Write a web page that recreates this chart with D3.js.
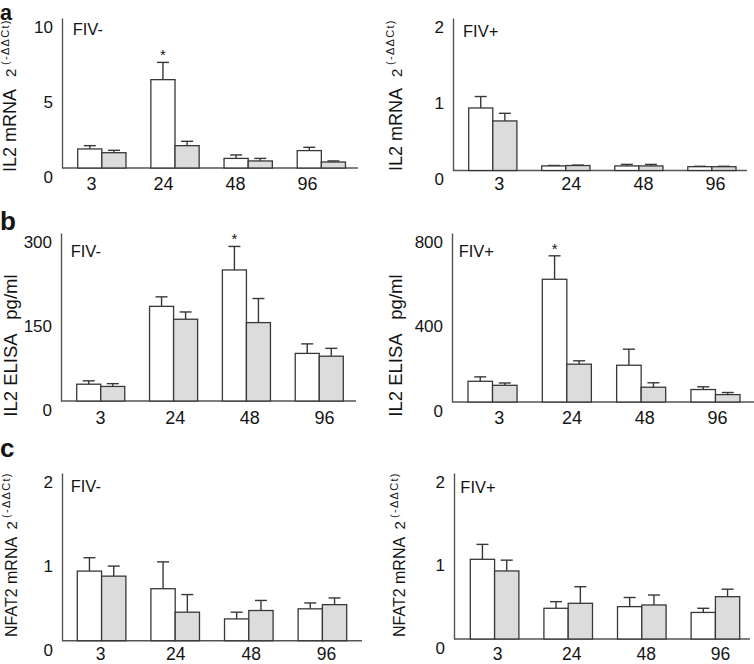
<!DOCTYPE html>
<html><head><meta charset="utf-8">
<script src="https://cdn.jsdelivr.net/npm/d3@7"></script>
<style>
html,body{margin:0;padding:0;background:#fff;}
svg{display:block;font-family:"Liberation Sans",Arial,Helvetica,sans-serif;}
</style></head>
<body><svg id="chart" width="754" height="664"></svg>
<script>
// ---------- data ----------
const categories = ["3", "24", "48", "96"];
const seriesNames = ["white", "gray"];

// a: IL2 mRNA 2^(-ΔΔCt)
const il2mrnaNegWhite = [1.27, 5.89, 0.64, 1.16];
const il2mrnaNegWhiteErr = [0.22, 1.15, 0.23, 0.22];
const il2mrnaNegGray = [1.02, 1.49, 0.47, 0.40];
const il2mrnaNegGrayErr = [0.16, 0.29, 0.17, 0.07];
const il2mrnaPosWhite = [0.82, 0.06, 0.06, 0.05];
const il2mrnaPosWhiteErr = [0.15, 0.006, 0.02, 0.005];
const il2mrnaPosGray = [0.65, 0.065, 0.06, 0.05];
const il2mrnaPosGrayErr = [0.10, 0.006, 0.02, 0.005];

// b: IL2 ELISA pg/ml
const il2elisaNegWhite = [30, 169, 234, 85];
const il2elisaNegWhiteErr = [6, 17, 42, 17];
const il2elisaNegGray = [26, 146, 140, 80];
const il2elisaNegGrayErr = [5, 13, 43, 14];
const il2elisaPosWhite = [98, 581, 174, 59];
const il2elisaPosWhiteErr = [21, 111, 76, 13];
const il2elisaPosGray = [79, 179, 70, 35];
const il2elisaPosGrayErr = [11, 16, 21, 10];

// c: NFAT2 mRNA 2^(-ΔΔCt)
const nfat2NegWhite = [0.83, 0.62, 0.26, 0.38];
const nfat2NegWhiteErr = [0.16, 0.32, 0.08, 0.07];
const nfat2NegGray = [0.77, 0.34, 0.36, 0.43];
const nfat2NegGrayErr = [0.12, 0.21, 0.12, 0.08];
const nfat2PosWhite = [0.96, 0.37, 0.39, 0.32];
const nfat2PosWhiteErr = [0.18, 0.08, 0.11, 0.05];
const nfat2PosGray = [0.82, 0.43, 0.41, 0.51];
const nfat2PosGrayErr = [0.13, 0.20, 0.12, 0.09];

const ticksA_neg = [0, 5, 10];
const ticksA_pos = [0, 1, 2];
const ticksB_neg = [0, 150, 300];
const ticksB_pos = [0, 400, 800];
const ticksC = [0, 1, 2];

const groupLabels = ["FIV-", "FIV+", "FIV-", "FIV+", "FIV-", "FIV+"];
const significant = [[1], [], [2], [1], [], []]; // category index with asterisk on white bar

// ---------- layout ----------
const FONT = '"Liberation Sans",Arial,Helvetica,sans-serif';
const svg = d3.select("#chart");
const TEXT = "#141414", AXIS = "#555555", STROKE = "#383838", GRAY = "#dcdcdc";

const panels = [
  {white: il2mrnaNegWhite, wErr: il2mrnaNegWhiteErr, gray: il2mrnaNegGray, gErr: il2mrnaNegGrayErr, ticks: ticksA_neg,
   ax: 62, top: 18, base: 168, xEnd: 358, band: [77.7, 345.5], lab: [91, 307], labY: 184, labFs: 18,
   fiv: [72.7, 35], title: {x: 16, y: 172, main: "IL2 mRNA", fs: 18, two: 95, sup: "(-ΔΔCt)", supX: 107, supDy: -7}},
  {white: il2mrnaPosWhite, wErr: il2mrnaPosWhiteErr, gray: il2mrnaPosGray, gErr: il2mrnaPosGrayErr, ticks: ticksA_pos,
   ax: 453, top: 18, base: 170.5, xEnd: 747, band: [468.7, 736], lab: [498.7, 715], labY: 184, labFs: 18,
   fiv: [463, 37], title: {x: 402, y: 171, main: "IL2 mRNA", fs: 18, two: 94, sup: "(-ΔΔCt)", supX: 106, supDy: -8}},
  {white: il2elisaNegWhite, wErr: il2elisaNegWhiteErr, gray: il2elisaNegGray, gErr: il2elisaNegGrayErr, ticks: ticksB_neg,
   ax: 61, top: 233, base: 401, xEnd: 356, band: [76.7, 343.3], lab: [100, 324], labY: 418, labFs: 18,
   fiv: [70.7, 256.7], title: {x: 17, y: 416.7, main: "IL2 ELISA", fs: 18.5, unit: "pg/ml", unitX: 97}},
  {white: il2elisaPosWhite, wErr: il2elisaPosWhiteErr, gray: il2elisaPosGray, gErr: il2elisaPosGrayErr, ticks: ticksB_pos,
   ax: 452, top: 233, base: 402, xEnd: 754, band: [468, 740], lab: [498.7, 717], labY: 418, labFs: 18,
   fiv: [458.7, 256.7], title: {x: 402, y: 416.7, main: "IL2 ELISA", fs: 18.5, unit: "pg/ml", unitX: 97}},
  {white: nfat2NegWhite, wErr: nfat2NegWhiteErr, gray: nfat2NegGray, gErr: nfat2NegGrayErr, ticks: ticksC,
   ax: 62, top: 473, base: 640.7, xEnd: 362, band: [77.3, 346.7], lab: [100, 326], labY: 654, labFs: 17.5,
   fiv: [70.7, 491.7], title: {x: 17, y: 637, main: "NFAT2 mRNA", fs: 16, two: 107.5, sup: "(-ΔΔCt)", supX: 119, supDy: -7}},
  {white: nfat2PosWhite, wErr: nfat2PosWhiteErr, gray: nfat2PosGray, gErr: nfat2PosGrayErr, ticks: ticksC,
   ax: 454, top: 473, base: 639, xEnd: 750, band: [470.3, 739.7], lab: [497, 720], labY: 654, labFs: 17.5,
   fiv: [460.3, 493], title: {x: 405, y: 637, main: "NFAT2 mRNA", fs: 16, two: 107.5, sup: "(-ΔΔCt)", supX: 119, supDy: -7}}
];

panels.forEach((p, i) => {
  const g = svg.append("g");
  const yMax = d3.max(p.ticks);
  const y = d3.scaleLinear().domain([0, yMax]).range([p.base, p.top]);
  const x = d3.scaleBand().domain(categories).range(p.band).paddingInner(0.34).paddingOuter(0);
  const xs = d3.scaleBand().domain(seriesNames).range([0, x.bandwidth()]).padding(0);
  const xl = d3.scalePoint().domain(categories).range(p.lab);

  // y axis
  const yAxis = g.append("g").attr("transform", `translate(${p.ax},0)`)
    .call(d3.axisLeft(y).tickValues(p.ticks).tickSize(0).tickSizeOuter(0).tickPadding(9).tickFormat(d3.format("d")))
    .attr("font-family", FONT).attr("font-size", 17);
  yAxis.select(".domain").attr("stroke", AXIS).attr("stroke-width", 1.4);
  yAxis.selectAll("text").attr("fill", TEXT).attr("dy", "0.32em").attr("transform", "translate(0,9)");

  // baseline
  g.append("line").attr("x1", p.ax).attr("x2", p.xEnd).attr("y1", y(0)).attr("y2", y(0))
    .attr("stroke", AXIS).attr("stroke-width", 1.4);

  // x labels
  const xAxis = g.append("g").attr("transform", `translate(0,${p.labY})`)
    .call(d3.axisBottom(xl).tickSize(0).tickPadding(0))
    .attr("font-family", FONT).attr("font-size", p.labFs);
  xAxis.select(".domain").remove();
  xAxis.selectAll("text").attr("fill", TEXT).attr("dy", "0.35em");

  // bars
  const rows = categories.map((c, k) => ({c, k,
    vals: [{s: "white", v: p.white[k], e: p.wErr[k]}, {s: "gray", v: p.gray[k], e: p.gErr[k]}]}));
  const grp = g.selectAll(".grp").data(rows).join("g").attr("transform", d => `translate(${x(d.c)},0)`);
  const cell = grp.selectAll(".cell").data(d => d.vals).join("g");
  const cx = d => xs(d.s) + xs.bandwidth() / 2;
  // error bars (upward)
  cell.append("line").attr("x1", cx).attr("x2", cx)
    .attr("y1", d => y(d.v)).attr("y2", d => y(d.v + d.e)).attr("stroke", STROKE).attr("stroke-width", 1.4);
  cell.append("line").attr("x1", d => cx(d) - 6).attr("x2", d => cx(d) + 6)
    .attr("y1", d => y(d.v + d.e)).attr("y2", d => y(d.v + d.e)).attr("stroke", STROKE).attr("stroke-width", 1.4);
  cell.append("rect").attr("x", d => xs(d.s)).attr("width", xs.bandwidth())
    .attr("y", d => y(d.v)).attr("height", d => y(0) - y(d.v))
    .attr("fill", d => d.s === "white" ? "#ffffff" : GRAY).attr("stroke", STROKE).attr("stroke-width", 1.3);

  // significance asterisks
  significant[i].forEach(k => {
    g.append("text").attr("x", x(categories[k]) + xs("white") + xs.bandwidth() / 2)
      .attr("y", y(p.white[k] + p.wErr[k]) - 2).attr("text-anchor", "middle")
      .attr("font-size", 15).attr("fill", TEXT).text("*");
  });

  // group label
  g.append("text").attr("x", p.fiv[0]).attr("y", p.fiv[1]).attr("font-size", 16.5).attr("fill", TEXT).text(groupLabels[i]);

  // y title
  const t = p.title;
  const tt = g.append("text").attr("transform", `translate(${t.x},${t.y}) rotate(-90)`).attr("fill", TEXT);
  tt.append("tspan").attr("x", 0).attr("font-size", t.fs).text(t.main);
  if (t.sup) {
    tt.append("tspan").attr("x", t.two).attr("font-size", 15).text("2");
    tt.append("tspan").attr("x", t.supX).attr("dy", t.supDy).attr("font-size", 11).attr("letter-spacing", 1.3).text(t.sup);
  } else {
    tt.append("tspan").attr("x", t.unitX).attr("font-size", t.fs).text(t.unit);
  }
});

// panel letters
[["a", 19.5], ["b", 230], ["c", 456.5]].forEach(([l, yy], j) => {
  svg.append("text").attr("x", 0).attr("y", yy).attr("font-size", j === 0 ? 21.5 : 26).attr("font-weight", "bold")
    .attr("fill", TEXT).text(l);
});
</script></body></html>
